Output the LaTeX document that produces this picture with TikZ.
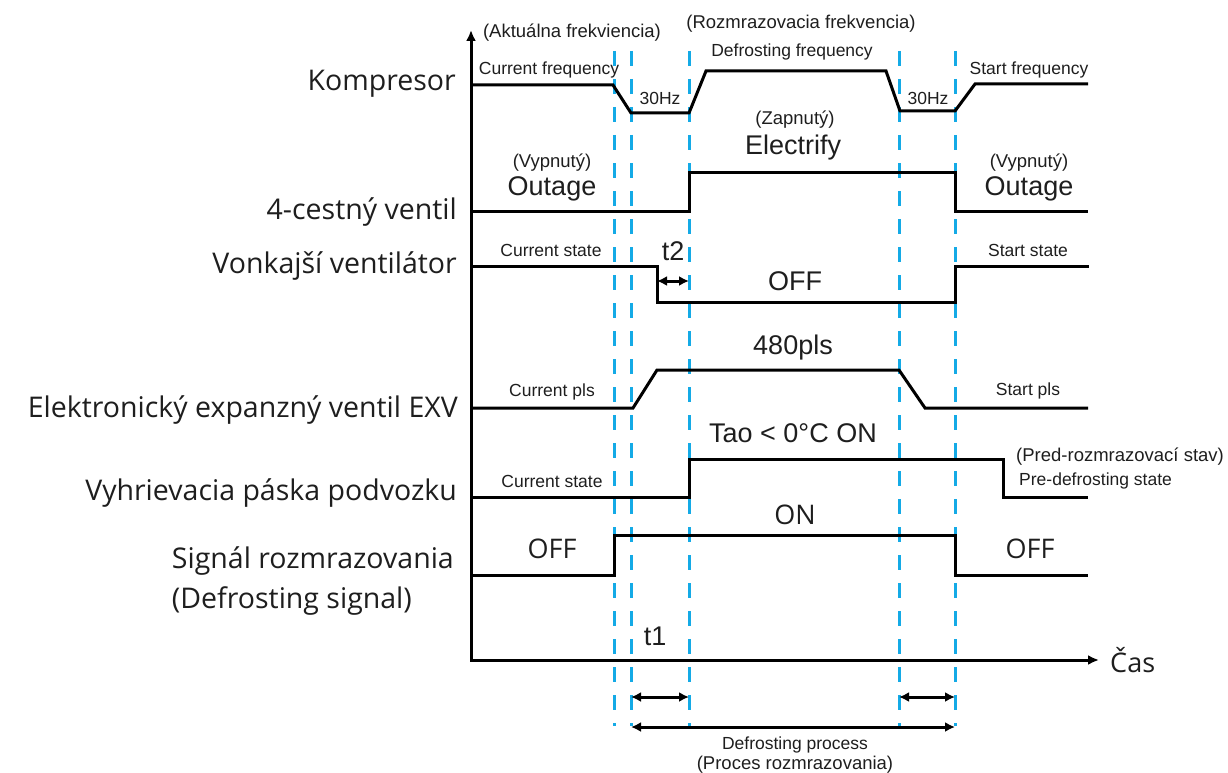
\documentclass[tikz,border=0pt]{standalone}
\usepackage{fontspec}
\setmainfont{Liberation Sans}
\newfontfamily\myr{Open Sans}
\usetikzlibrary{arrows.meta}
\definecolor{dashblue}{RGB}{20,170,230}
\definecolor{txt}{RGB}{30,30,30}
\tikzset{
  sig/.style={line width=3pt, line join=miter, black},
  axisline/.style={line width=3pt, black, {Latex[length=11pt,width=10pt]}-{Latex[length=11pt,width=10pt]}},
  dimarrow/.style={line width=3pt, black, {Latex[length=10pt,width=10pt]}-{Latex[length=10pt,width=10pt]}},
  guide/.style={draw=dashblue, line width=3pt, dash pattern=on 15pt off 13pt},
  small/.style={font=\fontsize{17.5}{20}\selectfont, inner sep=0, text=txt},
  paren/.style={font=\fontsize{18.5}{21}\selectfont, inner sep=0, text=txt},
  big/.style={font=\fontsize{27}{30}\selectfont, inner sep=0, text=txt},
  bigm/.style={font=\myr\fontsize{27}{30}\selectfont, inner sep=0, text=txt},
  lab/.style={font=\myr\fontsize{28.5}{32}\selectfont, inner sep=0, anchor=east, text=txt},
}
\begin{document}
\begin{tikzpicture}[x=1pt,y=-1pt]
\useasboundingbox (0,0) rectangle (1228,773);
% guide lines
\foreach \xx/\nm in {614/g1,631/g2,689/g3,899/g4,955/g5}{
  \coordinate (\nm t) at (\xx,51);
  \coordinate (\nm b) at (\xx,726);
  \draw[guide] (\nm t) -- (\nm b);
}
% axes
\coordinate (Y) at (471,30);
\coordinate (O) at (471,660);
\coordinate (X) at (1099,660);
\draw[axisline] (Y) -- (O) -- (X);
\node[bigm, anchor=west] (cas) at (1110,660) {Čas};

% left labels
\node[lab] (lkomp) at (456,84) {Kompresor};
\node[lab] (l4c) at (457,212) {4-cestný ventil};
\node[lab] (lvent) at (457,266) {Vonkajší ventilátor};
\node[lab] (lexv) at (458,410) {Elektronický expanzný ventil EXV};
\node[lab] (lvyh) at (457,493) {Vyhrievacia páska podvozku};
\node[lab] (lsig) at (454,561) {Signál rozmrazovania};
\coordinate (ldefy) at (0,601);
\node[lab, anchor=west] (ldef) at (lsig.west |- ldefy) {(Defrosting signal)};

% Kompresor
\draw[sig] (471,85) -- (613,85) -- (631,113) -- (689,113) -- (706,71) -- (886,71) -- (900,111) -- (955,111) -- (975,84) -- (1088,84);
\node[paren] (aktual) at (572,33) {(Aktuálna frekviencia)};
\node[small] (curfreq) at (549,70) {Current frequency};
\node[paren] (rozm) at (801,24) {(Rozmrazovacia frekvencia)};
\node[small] (deffreq) at (792,52) {Defrosting frequency};
\node[small] (hz1) at (660,98) {30Hz};
\node[small] (hz2) at (928,98) {30Hz};
\node[small] (startfreq) at (1029,70) {Start frequency};

% 4-way valve
\draw[sig] (471,211) -- (689,211) -- (689,172) -- (955,172) -- (955,211) -- (1088,211);
\node[paren] (vyp1) at (552,163) {(Vypnutý)};
\node[big] (out1) at (552,189) {Outage};
\node[paren] (zap) at (795,120) {(Zapnutý)};
\node[big] (elec) at (793,148) {Electrify};
\node[paren] (vyp2) at (1029,163) {(Vypnutý)};
\node[big] (out2) at (1029,189) {Outage};

% fan
\draw[sig] (471,266) -- (657,266) -- (657,302) -- (955,302) -- (955,266) -- (1089,266);
\node[small] (cs1) at (551,250) {Current state};
\node[big] (t2) at (673,251) {t2};
\coordinate (t2a) at (657,281);
\coordinate (t2b) at (689,281);
\draw[dimarrow] (t2a) -- (t2b);
\node[big] (offfan) at (795,281) {OFF};
\node[small] (ss) at (1028,250) {Start state};

% EXV
\draw[sig] (471,408) -- (633,408) -- (657,370) -- (899,370) -- (925,408) -- (1088,408);
\node[small] (cpls) at (552,392) {Current pls};
\node[big] (pls480) at (793,348) {480pls};
\node[small] (spls) at (1028,391) {Start pls};

% heater
\draw[sig] (471,497) -- (689,497) -- (689,459) -- (1003,459) -- (1003,497) -- (1088,497);
\node[small] (cs2) at (552,481) {Current state};
\node[big] (tao) at (793,433) {Tao < 0°C ON};
\node[paren, anchor=west] (pred) at (1016,457) {(Pred-rozmrazovací stav)};
\node[small, anchor=west] (predef) at (1019,481) {Pre-defrosting state};

% defrost signal
\draw[sig] (471,575) -- (614,575) -- (614,535) -- (955,535) -- (955,575) -- (1088,575);
\node[bigm] (off1) at (552,549) {OFF};
\node[bigm] (on) at (795,515) {ON};
\node[bigm] (off2) at (1030,549) {OFF};

% bottom
\node[big] (t1) at (655,636) {t1};
\coordinate (t1a) at (631,697);
\coordinate (t1b) at (689,697);
\draw[dimarrow] (t1a) -- (t1b);
\coordinate (t3a) at (899,697);
\coordinate (t3b) at (955,697);
\draw[dimarrow] (t3a) -- (t3b);
\coordinate (dpa) at (631,727);
\coordinate (dpb) at (955,727);
\draw[dimarrow] (dpa) -- (dpb);
\node[small] (defproc) at (795,745) {Defrosting process};
\node[paren] (procroz) at (795,765) {(Proces rozmrazovania)};
\end{tikzpicture}
\end{document}
